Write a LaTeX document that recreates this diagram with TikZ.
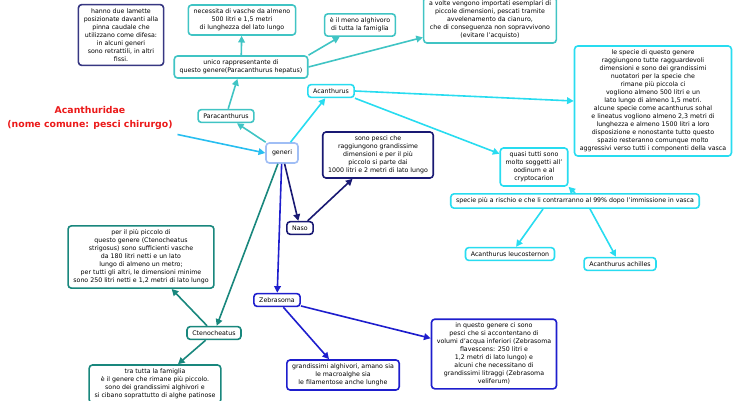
\documentclass[tikz,border=0pt]{standalone}
\usepackage{fontspec}
\setmainfont{DejaVu Sans}
\usetikzlibrary{arrows.meta}

\definecolor{titlered}{RGB}{235,25,25}
\definecolor{lamcol}{RGB}{55,55,130}
\definecolor{paracol}{RGB}{64,196,196}
\definecolor{acancol}{RGB}{40,220,240}
\definecolor{genericol}{RGB}{160,190,245}
\definecolor{titlearr}{RGB}{40,190,240}
\definecolor{nasocol}{RGB}{25,25,115}
\definecolor{zebracol}{RGB}{30,30,205}
\definecolor{ctenocol}{RGB}{25,135,125}

\tikzset{every picture/.style={line width=0.75pt}}

\begin{document}
\begin{tikzpicture}[x=0.75pt,y=0.75pt,yscale=-1,xscale=1,
  box/.style={draw, fill=white, rounded corners=2.5pt, align=center, inner xsep=4pt, inner ysep=3pt, line width=1.2pt, font=\fontsize{4.7}{6}\selectfont},
  conn/.style={line width=1.2pt, -{Triangle[length=5pt,width=5pt]}}]
    \useasboundingbox (0,0) rectangle (735,400);
    % Title
    \node [align=center, text=titlered, font=\fontsize{7}{10.5}\selectfont\bfseries] (title) at (90,118) {Acanthuridae\\(nome comune: pesci chirurgo)};
    % Text Node
    \node [box, draw=lamcol] (lamette) at (121,35) {hanno due lamette\\posizionate davanti alla\\pinna caudale che\\utilizzano come difesa:\\in alcuni generi\\sono retrattili, in altri\\fissi.};
    % Text Node
    \node [box, draw=paracol] (necessita) at (242,20) {necessita di vasche da almeno\\500 litri e 1,5 metri\\di lunghezza del lato lungo};
    % Text Node
    \node [box, draw=paracol] (meno) at (360,25) {è il meno alghivoro\\di tutta la famiglia};
    % Text Node
    \node [box, draw=paracol] (volte) at (490,20) {a volte vengono importati esemplari di\\piccole dimensioni, pescati tramite\\avvelenamento da cianuro,\\che di conseguenza non sopravvivono\\(evitare l'acquisto)};
    % Text Node
    \node [box, draw=paracol] (unico) at (241,67) {unico rappresentante di\\questo genere(Paracanthurus hepatus)};
    % Text Node
    \node [box, draw=paracol] (para) at (226,116) {Paracanthurus};
    % Text Node
    \node [box, draw=genericol, minimum width=24pt, minimum height=15pt] (generi) at (282,153) {generi};
    % Text Node
    \node [box, draw=acancol] (acan) at (331,91) {Acanthurus};
    % Text Node
    \node [box, draw=acancol] (specie) at (653,101) {le specie di questo genere\\raggiungono tutte ragguardevoli\\dimensioni e sono dei grandissimi\\nuotatori per la specie che\\rimane più piccola ci\\vogliono almeno 500 litri e un\\lato lungo di almeno 1,5 metri.\\alcune specie come acanthurus sohal\\e lineatus vogliono almeno 2,3 metri di\\lunghezza e almeno 1500 litri a loro\\disposizione e nonostante tutto questo\\spazio resteranno comunque molto\\aggressivi verso tutti i componenti della vasca};
    % Text Node
    \node [box, draw=acancol] (quasi) at (534,167) {quasi tutti sono\\molto soggetti all'\\oodinum e al\\cryptocarion};
    % Text Node
    \node [box, draw=acancol] (rischio) at (575,201) {specie più a rischio e che li contrarranno al 99\% dopo l'immissione in vasca};
    % Text Node
    \node [box, draw=acancol] (leuco) at (510,254) {Acanthurus leucosternon};
    % Text Node
    \node [box, draw=acancol] (achilles) at (620,264) {Acanthurus achilles};
    % Text Node
    \node [box, draw=nasocol] (sonopesci) at (378,155) {sono pesci che\\raggiungono grandissime\\dimensioni e per il più\\piccolo si parte dai\\1000 litri e 2 metri di lato lungo};
    % Text Node
    \node [box, draw=nasocol] (naso) at (300,228) {Naso};
    % Text Node
    \node [box, draw=zebracol] (zebra) at (277,300) {Zebrasoma};
    % Text Node
    \node [box, draw=zebracol] (grand) at (343,375) {grandissimi alghivori, amano sia\\le macroalghe sia\\le filamentose anche lunghe};
    % Text Node
    \node [box, draw=zebracol] (inquesto) at (494,354) {in questo genere ci sono\\pesci che si accontentano di\\volumi d'acqua inferiori (Zebrasoma\\flavescens: 250 litri e\\1,2 metri di lato lungo) e\\alcuni che necessitano di\\grandissimi litraggi (Zebrasoma\\veliferum)};
    % Text Node
    \node [box, draw=ctenocol] (peril) at (141,257) {per il più piccolo di\\questo genere (Ctenocheatus\\strigosus) sono sufficienti vasche\\da 180 litri netti e un lato\\lungo di almeno un metro;\\per tutti gli altri, le dimensioni minime\\sono 250 litri netti e 1,2 metri di lato lungo};
    % Text Node
    \node [box, draw=ctenocol] (cteno) at (214,333) {Ctenocheatus};
    % Text Node
    \node [box, draw=ctenocol] (tratutta) at (155,384) {tra tutta la famiglia\\è il genere che rimane più piccolo.\\sono dei grandissimi alghivori e\\si cibano soprattutto di alghe patinose};

    %Straight Lines
    \draw [conn, titlearr] (title.south east) -- (generi.west);
    %Straight Lines
    \draw [conn, paracol] (generi) -- (para);
    \draw [conn, paracol] (para) -- (unico);
    \draw [conn, paracol] (unico) -- (necessita);
    \draw [conn, paracol] (unico.north east) -- (meno);
    \draw [conn, paracol] (unico.east) -- (volte);
    %Straight Lines
    \draw [conn, acancol] (generi) -- (acan);
    \draw [conn, acancol] (acan.east) -- (specie.west);
    \draw [conn, acancol] (acan.south east) -- (quasi);
    \draw [conn, acancol] (rischio.north) -- (quasi.south east);
    \draw [conn, acancol] (rischio.-166) -- (leuco.50);
    \draw [conn, acancol] (rischio.-28) -- (achilles.119);
    %Straight Lines
    \draw [conn, nasocol] (generi) -- (naso);
    \draw [conn, nasocol] (naso) -- (sonopesci);
    %Straight Lines
    \draw [conn, zebracol] (generi) -- (zebra);
    \draw [conn, zebracol] (zebra) -- (grand);
    \draw [conn, zebracol] (zebra) -- (inquesto);
    %Straight Lines
    \draw [conn, ctenocol] (generi) -- (cteno);
    \draw [conn, ctenocol] (cteno) -- (peril);
    \draw [conn, ctenocol] (cteno) -- (tratutta);
\end{tikzpicture}
\end{document}
